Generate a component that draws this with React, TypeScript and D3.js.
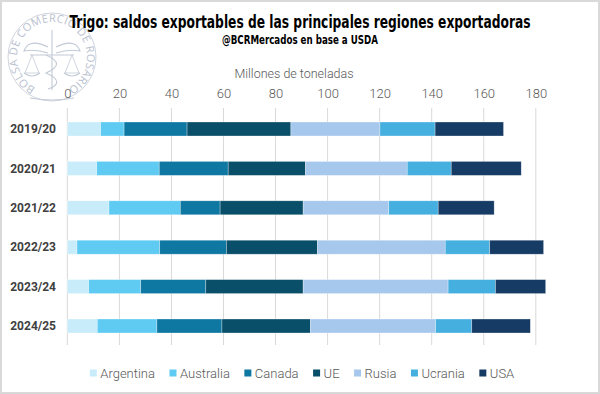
import { useEffect, useRef } from "react";
import * as d3 from "d3";

const campaigns = ["2019/20", "2020/21", "2021/22", "2022/23", "2023/24", "2024/25"];
const regions = ["Argentina", "Australia", "Canada", "UE", "Rusia", "Ucrania", "USA"];
const colors = ["#c8ecfa", "#5fcbf3", "#0e77a2", "#094f69", "#a6c8ec", "#45afe0", "#163b64"];

// Millones de toneladas, por campaña
const argentina = [12.8, 11.3, 16.0, 3.7, 8.2, 11.5];
const australia = [9.0, 24.0, 27.4, 31.8, 20.0, 22.9];
const canada = [24.2, 26.5, 15.3, 25.6, 25.0, 25.0];
const ue = [39.9, 29.7, 31.9, 35.0, 37.4, 34.0];
const rusia = [34.2, 39.1, 32.9, 49.1, 55.7, 48.1];
const ucrania = [21.2, 16.9, 19.0, 17.1, 18.2, 13.9];
const usa = [26.3, 26.9, 21.5, 20.7, 19.3, 22.5];

const xTicks = [0, 20, 40, 60, 80, 100, 120, 140, 160, 180];

const W = 600;
const H = 394;

export default function App() {
    const svgRef = useRef<SVGSVGElement | null>(null);

    useEffect(() => {
        const svg = d3.select(svgRef.current!);
        svg.selectAll("*").remove();

        svg.append("rect")
            .attr("x", 1).attr("y", 1).attr("width", W - 2).attr("height", H - 2)
            .attr("fill", "#fff").attr("stroke", "#d9d9d9").attr("stroke-width", 2);

        // watermark seal
        const seal = svg.append("g").attr("fill", "none").attr("stroke", "#c3cad6");
        const cx = 52, cy = 57;
        seal.append("circle").attr("cx", cx).attr("cy", cy).attr("r", 44).attr("stroke-width", 0.8);
        const rT = 35;
        const pt = (deg: number, r: number) => {
            const a = (deg * Math.PI) / 180;
            return [cx + r * Math.sin(a), cy - r * Math.cos(a)];
        };
        const [sx, sy] = pt(-152, rT);
        const [ex, ey] = pt(152, rT);
        svg.append("defs").append("path").attr("id", "sealArc")
            .attr("d", `M${sx},${sy} A${rT},${rT} 0 1 1 ${ex},${ey}`);
        svg.append("text")
            .attr("font-family", "'Open Sans', sans-serif").attr("font-size", 11)
            .attr("fill", "#b9c1cf")
            .append("textPath").attr("href", "#sealArc")
            .attr("textLength", 2 * Math.PI * rT * (304 / 360))
            .attr("lengthAdjust", "spacing")
            .text("BOLSA DE COMERCIO DE ROSARIO");
        const icon = seal.append("g").attr("stroke-width", 1.1);
        icon.append("line").attr("x1", cx).attr("y1", 30).attr("x2", cx).attr("y2", 90);
        icon.append("path").attr("d", `M${cx - 4},${cy - 10} C${cx - 20},${cy - 18} ${cx - 26},${cy - 12} ${cx - 28},${cy - 6} C${cx - 18},${cy - 8} ${cx - 10},${cy - 6} ${cx - 4},${cy - 4}`);
        icon.append("path").attr("d", `M${cx + 4},${cy - 10} C${cx + 20},${cy - 18} ${cx + 26},${cy - 12} ${cx + 28},${cy - 6} C${cx + 18},${cy - 8} ${cx + 10},${cy - 6} ${cx + 4},${cy - 4}`);
        icon.append("path").attr("d", `M${cx - 6},${cy - 2} C${cx + 8},${cy + 4} ${cx + 8},${cy + 10} ${cx - 6},${cy + 16} C${cx + 8},${cy + 22} ${cx + 8},${cy + 28} ${cx - 4},${cy + 32}`);
        icon.append("line").attr("x1", cx - 22).attr("y1", cy - 2).attr("x2", cx + 22).attr("y2", cy - 2);
        [-20, 20].forEach((d) => {
            icon.append("path").attr("d", `M${cx + d},${cy - 2} L${cx + d - 7},${cy + 16} L${cx + d + 7},${cy + 16} Z`).attr("stroke-width", 0.8);
            icon.append("path").attr("d", `M${cx + d - 8},${cy + 16} Q${cx + d},${cy + 22} ${cx + d + 8},${cy + 16}`);
        });
        seal.append("path").attr("d", `M${cx - 22},${cy + 41} Q${cx},${cy + 45} ${cx + 22},${cy + 41}`).attr("stroke-width", 1.2);

        // titles
        svg.append("text")
            .attr("x", 300).attr("y", 27.5).attr("text-anchor", "middle")
            .attr("font-family", "'Liberation Sans Narrow', 'DejaVu Sans Condensed', 'Roboto', sans-serif")
            .attr("font-weight", 700).attr("font-size", 18).attr("fill", "#000")
            .attr("textLength", 461).attr("lengthAdjust", "spacingAndGlyphs")
            .text("Trigo: saldos exportables de las principales regiones exportadoras");
        svg.append("text")
            .attr("x", 300).attr("y", 44).attr("text-anchor", "middle")
            .attr("font-family", "'Liberation Sans Narrow', 'DejaVu Sans Condensed', 'Roboto', sans-serif")
            .attr("font-weight", 700).attr("font-size", 11.5).attr("fill", "#000")
            .attr("textLength", 156).attr("lengthAdjust", "spacingAndGlyphs")
            .text("@BCRMercados en base a USDA");

        const x = d3.scaleLinear().domain([0, 180]).range([67.35, 535.8]);
        const y = d3.scaleBand<string>().domain(campaigns).range([109.3, 345.7])
            .paddingInner(0.645).paddingOuter(0.3225);

        // axis title
        svg.append("text")
            .attr("x", 294).attr("y", 78).attr("text-anchor", "middle")
            .attr("font-family", "Roboto, sans-serif").attr("font-weight", 300)
            .attr("font-size", 12.5).attr("fill", "#595959")
            .text("Millones de toneladas");

        // grid
        svg.append("g").selectAll("line").data(xTicks).join("line")
            .attr("x1", (d) => x(d)).attr("x2", (d) => x(d))
            .attr("y1", 108).attr("y2", 345)
            .attr("stroke", "#d9d9d9").attr("stroke-width", 1);

        // top axis
        const axis = svg.append("g").attr("transform", "translate(0,108)")
            .call(d3.axisTop(x).tickValues(xTicks).tickSize(0).tickPadding(10) as any);
        axis.select(".domain").remove();
        axis.selectAll("text")
            .attr("font-family", "Roboto, sans-serif").attr("font-weight", 300)
            .attr("font-size", 13).attr("fill", "#595959");

        // category labels
        svg.append("g").selectAll("text").data(campaigns).join("text")
            .attr("x", 56).attr("y", (d) => y(d)! + y.bandwidth() / 2)
            .attr("dy", "0.35em").attr("text-anchor", "end")
            .attr("font-family", "Roboto, sans-serif").attr("font-weight", 700)
            .attr("font-size", 12).attr("fill", "#404040")
            .text((d) => d);

        // stacked bars
        const table = campaigns.map((c, i) => ({
            campaign: c,
            Argentina: argentina[i],
            Australia: australia[i],
            Canada: canada[i],
            UE: ue[i],
            Rusia: rusia[i],
            Ucrania: ucrania[i],
            USA: usa[i],
        }));
        const stack = d3.stack<any>().keys(regions)(table);
        svg.append("g").selectAll("g").data(stack).join("g")
            .attr("fill", (_d, i) => colors[i])
            .selectAll("rect").data((s) => s).join("rect")
            .attr("x", (d) => x(d[0]))
            .attr("width", (d) => x(d[1]) - x(d[0]))
            .attr("y", (d) => y(d.data.campaign)!)
            .attr("height", y.bandwidth())
            .attr("stroke", "#ffffff").attr("stroke-opacity", 0.5).attr("stroke-width", 0.6);

        // legend
        const leg = svg.append("g");
        const items = leg.selectAll("g").data(regions).join("g");
        items.append("rect").attr("width", 7).attr("height", 7).attr("y", 369.5)
            .attr("fill", (_d, i) => colors[i]);
        items.append("text").attr("x", 10.5).attr("y", 373).attr("dy", "0.35em")
            .attr("font-family", "Roboto, sans-serif").attr("font-weight", 300)
            .attr("font-size", 13).attr("fill", "#595959")
            .text((d) => d);
        let pos = 0;
        const offsets: number[] = [];
        items.each(function () {
            const t = d3.select(this).select("text").node() as SVGTextElement;
            offsets.push(pos);
            pos += 10.5 + t.getComputedTextLength() + 14.5;
        });
        const total = pos - 14.5;
        const start = 302 - total / 2;
        items.attr("transform", (_d, i) => `translate(${start + offsets[i]},0)`);
    }, []);

    return (
        <svg
            ref={svgRef}
            width={W}
            height={H}
            style={{ position: "absolute", left: 0, top: 0, background: "#fff" }}
        />
    );
}
